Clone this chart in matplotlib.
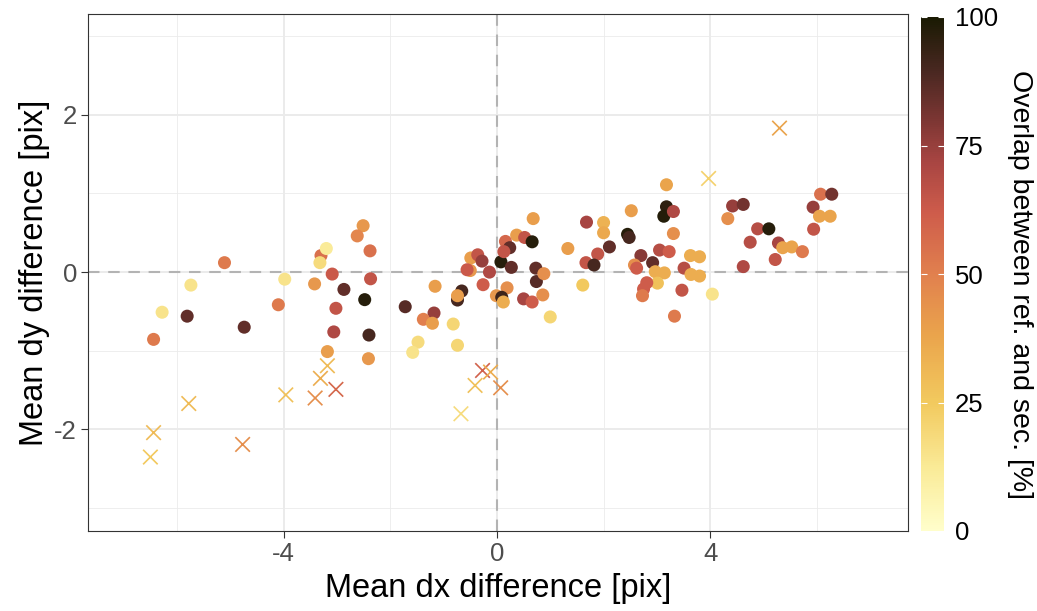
import numpy as np
import matplotlib
matplotlib.use("Agg")
import matplotlib.pyplot as plt
from matplotlib.colors import LinearSegmentedColormap, Normalize

plt.rcParams['font.family'] = ['Liberation Sans', 'DejaVu Sans']

# ---- data: matched points (circles) ----
dx_pts = [-5.11, -5.74, -6.28, -5.81, -6.44, -4.74, -3.98, -4.10, -2.51, -2.62,
          -2.38, -3.30, -3.20, -3.32, -3.42, -3.09, -2.37, -2.87, -2.48, -3.02,
          -3.06, -2.40, -3.18, -2.41, -1.72, -1.16, -1.18, -1.38, -1.21, -0.82,
          -1.48, -1.58, -0.74, -0.66, -0.74, -0.74, -0.49, -0.50, -0.56, -0.36,
          -0.28, -0.14, -0.26, -0.01, 0.075, 0.68, 0.37, 0.52, 0.66, 0.16,
          0.24, 0.13, 0.27, 0.19, 0.09, 0.12, 0.73, 0.74, 0.88, 0.50,
          0.66, 0.86, 1.00, 1.33, 1.61, 1.68, 2.00, 2.00, 2.11, 1.89,
          1.67, 1.82, 2.52, 2.45, 2.48, 3.18, 3.18, 3.13, 3.31, 3.31,
          4.42, 4.62, 4.33, 2.70, 2.92, 2.58, 2.62, 3.05, 3.23, 3.63,
          3.80, 3.51, 2.97, 3.14, 3.64, 3.80, 3.01, 2.81, 2.75, 2.73,
          3.47, 4.04, 3.33, 6.07, 6.28, 5.93, 6.05, 6.25, 5.94, 4.89,
          5.10, 4.75, 5.28, 5.36, 5.53, 5.73, 5.22, 4.62]
dy_pts = [0.12, -0.165, -0.51, -0.56, -0.855, -0.70, -0.09, -0.415, 0.59, 0.46,
          0.27, 0.21, 0.30, 0.12, -0.15, -0.025, -0.085, -0.22, -0.35, -0.46,
          -0.76, -0.80, -1.01, -1.10, -0.44, -0.18, -0.52, -0.60, -0.65, -0.66,
          -0.89, -1.02, -0.93, -0.24, -0.355, -0.30, 0.18, 0.02, 0.03, 0.22,
          0.14, 0.00, -0.16, -0.30, 0.13, 0.68, 0.47, 0.44, 0.385, 0.39,
          0.31, 0.26, 0.06, -0.20, -0.32, -0.38, 0.05, -0.12, -0.02, -0.34,
          -0.38, -0.29, -0.57, 0.30, -0.165, 0.635, 0.63, 0.50, 0.32, 0.23,
          0.12, 0.09, 0.78, 0.48, 0.44, 1.11, 0.83, 0.71, 0.77, 0.49,
          0.84, 0.86, 0.68, 0.21, 0.12, 0.09, 0.05, 0.28, 0.26, 0.21,
          0.195, 0.05, 0.005, -0.01, -0.03, -0.05, -0.14, -0.135, -0.215, -0.30,
          -0.23, -0.28, -0.56, 0.99, 0.99, 0.825, 0.71, 0.71, 0.545, 0.55,
          0.55, 0.38, 0.37, 0.31, 0.32, 0.26, 0.16, 0.07]
overlap_pts = [52, 15, 15, 85, 52, 85, 15, 52, 42, 48,
               55, 55, 12, 18, 42, 63, 65, 85, 97, 65,
               70, 90, 40, 42, 87, 40, 75, 50, 40, 20,
               18, 15, 20, 90, 90, 40, 40, 42, 63, 65,
               75, 70, 62, 42, 97, 40, 40, 65, 97, 58,
               85, 65, 85, 45, 92, 35, 85, 87, 45, 72,
               62, 45, 20, 40, 25, 72, 33, 36, 85, 65,
               65, 90, 40, 97, 90, 38, 95, 98, 70, 45,
               75, 82, 45, 78, 85, 45, 62, 68, 62, 35,
               35, 68, 35, 35, 35, 35, 28, 62, 62, 52,
               65, 15, 52, 55, 82, 75, 38, 38, 65, 68,
               97, 68, 72, 38, 38, 52, 65, 70]

# ---- data: unmatched points (crosses) ----
dx_x = [-5.78, -6.44, -6.50, -4.77, -3.96, -3.18, -3.31, -3.02, -3.41, -0.27,
        -0.12, -0.41, -0.675, 0.07, 3.97, 5.30]
dy_x = [-1.67, -2.04, -2.35, -2.19, -1.56, -1.19, -1.35, -1.49, -1.60, -1.25,
        -1.27, -1.44, -1.80, -1.47, 1.19, 1.83]
overlap_x = [30, 30, 25, 45, 28, 30, 35, 58, 45, 60,
             35, 28, 18, 45, 22, 38]

x_ticks = [-4, 0, 4]
y_ticks = [-2, 0, 2]
cbar_ticks = [0, 25, 50, 75, 100]

# lajolla-like colormap (light yellow -> orange -> red -> near black)
cmap = LinearSegmentedColormap.from_list("lajolla_like", [
    (0.00, "#FFFECB"), (0.12, "#FAEB98"), (0.25, "#F2C95E"), (0.38, "#EAA44C"),
    (0.50, "#E1804E"), (0.62, "#CE5C4B"), (0.72, "#A84542"), (0.80, "#7C3633"),
    (0.90, "#472720"), (1.00, "#1A1A03")])
norm = Normalize(0, 100)

W, H = 1037, 611
fig = plt.figure(figsize=(W / 100, H / 100), dpi=100)
ax = fig.add_axes([88 / W, (H - 531) / H, 820 / W, 517 / H])

ax.set_xlim(-7.67, 7.71)
ax.set_ylim(-3.29, 3.28)

# grid
for v in [-6, -2, 2, 6]:
    ax.axvline(v, color="#EBEBEB", lw=0.6, zorder=0)
for v in [-3, -1, 1, 3]:
    ax.axhline(v, color="#EBEBEB", lw=0.6, zorder=0)
for v in x_ticks:
    ax.axvline(v, color="#EBEBEB", lw=1.4, zorder=0)
for v in y_ticks:
    ax.axhline(v, color="#EBEBEB", lw=1.4, zorder=0)
ax.axvline(0, color="#B3B3B3", lw=1.5, ls=(0, (5.5, 4.2)), zorder=1)
ax.axhline(0, color="#B3B3B3", lw=1.5, ls=(0, (5.5, 4.2)), zorder=1)

ax.scatter(dx_pts, dy_pts, c=overlap_pts, cmap=cmap, norm=norm, s=88,
           marker="o", linewidths=0, zorder=3)
ax.scatter(dx_x, dy_x, c=overlap_x, cmap=cmap, norm=norm, s=110,
           marker="x", linewidths=1.2, zorder=3)

ax.set_xticks(x_ticks)
ax.set_yticks(y_ticks)
ax.set_xticklabels([str(t) for t in x_ticks])
ax.set_yticklabels([str(t) for t in y_ticks])
ax.tick_params(axis="both", direction="out", length=5, width=0.8, color="#333333",
               labelcolor="#4D4D4D", labelsize=18.5, pad=3)
for sp in ax.spines.values():
    sp.set_color("#333333")
    sp.set_linewidth(0.8)

fig.text(498 / W, 1 - 589 / H, "Mean dx difference [pix]", ha="center", va="center",
         fontsize=23.5, color="black")
fig.text(35 / W, 1 - 272.5 / H, "Mean dy difference [pix]", ha="center", va="center",
         rotation=90, fontsize=23.5, color="black")

# colorbar
cax = fig.add_axes([921 / W, (H - 531) / H, 23 / W, 514 / H])
sm = plt.cm.ScalarMappable(cmap=cmap, norm=norm)
cb = fig.colorbar(sm, cax=cax, ticks=cbar_ticks)
cb.outline.set_visible(False)
cb.ax.set_yticklabels([str(t) for t in cbar_ticks])
cb.ax.tick_params(axis="y", direction="in", length=4.5, width=0.8, color="white",
                  left=True, right=True, labelsize=18.5, labelcolor="black", pad=8)
fig.text(1020 / W, 1 - 285 / H, "Overlap between ref. and sec. [%]", ha="center",
         va="center", rotation=-90, fontsize=20.5, color="black")

fig.savefig("out.png", dpi=100)
